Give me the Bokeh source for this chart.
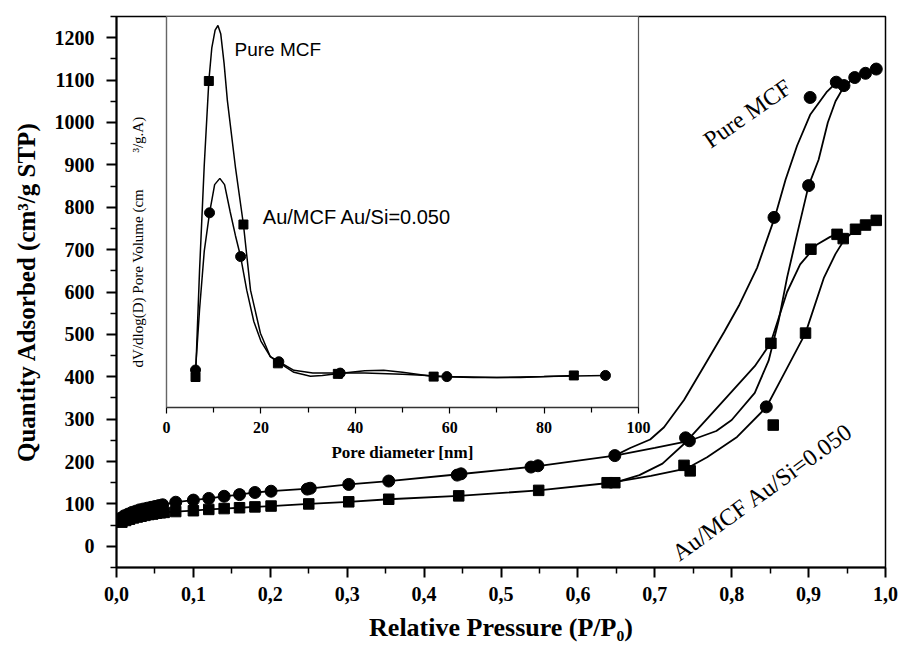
import math
from bokeh.plotting import figure
from bokeh.models import Range1d, FixedTicker, Label, GridBox
from bokeh.embed import file_html
from bokeh.resources import INLINE

# ---------------- main isotherm data ----------------
x_ticks = [0.0, 0.1, 0.2, 0.3, 0.4, 0.5, 0.6, 0.7, 0.8, 0.9, 1.0]
x_tick_labels = ["0,0", "0,1", "0,2", "0,3", "0,4", "0,5", "0,6", "0,7", "0,8", "0,9", "1,0"]
x_minor = [0.05, 0.15, 0.25, 0.35, 0.45, 0.55, 0.65, 0.75, 0.85, 0.95]
y_ticks = [0, 100, 200, 300, 400, 500, 600, 700, 800, 900, 1000, 1100, 1200]
y_minor = [-50, 50, 150, 250, 350, 450, 550, 650, 750, 850, 950, 1050, 1150, 1250]

# markers (circles) - Pure MCF
circ_x = [0.005, 0.010, 0.015, 0.020, 0.025, 0.030, 0.035, 0.040, 0.045, 0.050, 0.055, 0.060,
          0.077, 0.100, 0.120, 0.140, 0.160, 0.180, 0.201, 0.248, 0.252, 0.302, 0.354, 0.443,
          0.448, 0.539, 0.548, 0.648, 0.740, 0.745, 0.845, 0.855, 0.900, 0.902, 0.936, 0.946,
          0.960, 0.974, 0.988]
circ_y = [66, 72, 76, 80, 83, 86, 88, 90, 92, 94, 96, 98,
          104, 109, 113, 118, 122, 127, 130, 135, 137, 146, 154, 168,
          171, 187, 190, 214, 256, 249, 329, 776, 851, 1059, 1095, 1087,
          1106, 1116, 1126]

# markers (squares) - Au/MCF Au/Si=0.050
sq_x = [0.007, 0.012, 0.017, 0.022, 0.027, 0.032, 0.037, 0.042, 0.047, 0.052, 0.057, 0.062,
        0.077, 0.100, 0.120, 0.140, 0.160, 0.180, 0.201, 0.250, 0.302, 0.354, 0.445, 0.549,
        0.638, 0.648, 0.738, 0.746, 0.851, 0.854, 0.896, 0.903, 0.937, 0.945, 0.961, 0.974, 0.988]
sq_y = [57, 61, 64, 67, 69, 71, 73, 75, 76, 78, 79, 80,
        82, 84, 87, 89, 91, 93, 95, 100, 105, 111, 119, 132,
        150, 150, 191, 178, 479, 286, 503, 701, 736, 726, 748, 758, 769]

# curves
pure_ads_x = [0.005, 0.010, 0.015, 0.020, 0.030, 0.040, 0.050, 0.060, 0.077, 0.100, 0.120, 0.140,
              0.160, 0.180, 0.201, 0.250, 0.302, 0.354, 0.445, 0.543, 0.648, 0.700, 0.745, 0.780,
              0.800, 0.830, 0.848, 0.861, 0.872, 0.885, 0.900, 0.913, 0.925, 0.935, 0.946, 0.960,
              0.974, 0.988]
pure_ads_y = [66, 72, 76, 80, 86, 90, 94, 98, 104, 109, 113, 118,
              122, 127, 130, 136, 146, 154, 170, 188, 214, 232, 249, 272,
              298, 362, 438, 532, 634, 736, 851, 912, 1000, 1050, 1085, 1106,
              1116, 1126]
pure_des_x = [0.648, 0.668, 0.694, 0.712, 0.738, 0.764, 0.790, 0.810, 0.833, 0.856, 0.870,
              0.885, 0.902, 0.924, 0.937]
pure_des_y = [214, 232, 252, 281, 345, 425, 505, 570, 657, 776, 865,
              945, 1018, 1073, 1096]
au_ads_x = [0.007, 0.012, 0.017, 0.022, 0.032, 0.042, 0.052, 0.062, 0.077, 0.100, 0.120, 0.140,
            0.160, 0.180, 0.201, 0.250, 0.302, 0.354, 0.445, 0.549, 0.643, 0.695, 0.742, 0.768,
            0.807, 0.845, 0.868, 0.896, 0.920, 0.935, 0.946, 0.961, 0.974, 0.988]
au_ads_y = [57, 61, 64, 67, 71, 75, 78, 80, 82, 84, 87, 89,
            91, 93, 95, 100, 105, 111, 119, 132, 150, 166, 184, 210,
            258, 328, 407, 503, 634, 690, 722, 748, 758, 769]
au_des_x = [0.648, 0.680, 0.710, 0.740, 0.770, 0.800, 0.830, 0.8505, 0.872, 0.889, 0.911, 0.928, 0.937]
au_des_y = [150, 168, 195, 245, 305, 365, 425, 479, 600, 665, 712, 730, 736]

# ---------------- inset (pore size distribution) data ----------------
in_x_ticks = [0, 20, 40, 60, 80, 100]
in_x_minor = [10, 30, 50, 70, 90]

pure_pd_curve_x = [6.15, 7.0, 8.0, 8.97, 9.6, 10.3, 10.9, 11.5, 12.2, 12.9, 14.6, 16.3, 17.8, 19.9,
                   22.0, 23.8, 27.0, 30.5, 33.0, 36.5, 42.0, 46.0, 50.0, 56.6, 65.0, 75.0, 86.3]
pure_pd_curve_y = [0.078, 0.35, 0.62, 0.835, 0.92, 0.965, 0.977, 0.955, 0.88, 0.785, 0.615, 0.468,
                   0.30, 0.19, 0.13, 0.115, 0.09, 0.08, 0.082, 0.087, 0.094, 0.095, 0.09, 0.079,
                   0.077, 0.077, 0.082]
au_pd_curve_x = [6.15, 7.0, 8.0, 9.12, 10.2, 11.3, 12.3, 13.5, 14.6, 15.7, 17.0, 18.5, 20.0, 22.0,
                 23.8, 27.0, 31.0, 36.5, 42.0, 50.0, 59.4, 70.0, 80.0, 93.0]
au_pd_curve_y = [0.096, 0.25, 0.40, 0.498, 0.57, 0.586, 0.57, 0.50, 0.44, 0.386, 0.30, 0.22, 0.17, 0.13,
                 0.117, 0.095, 0.088, 0.088, 0.088, 0.085, 0.079, 0.077, 0.079, 0.082]
pure_pd_sq_x = [6.15, 8.97, 16.3, 23.6, 36.3, 56.6, 86.3]
pure_pd_sq_y = [0.078, 0.835, 0.468, 0.113, 0.086, 0.079, 0.082]
au_pd_circ_x = [6.15, 9.12, 15.7, 23.8, 36.8, 59.4, 93.0]
au_pd_circ_y = [0.096, 0.498, 0.386, 0.117, 0.088, 0.079, 0.082]

SERIF = "Liberation Serif"
SANS = "Liberation Sans"

BL, BR, BT, BB = 116, 17, 16, 81

# ---------------- main figure ----------------
p = figure(width=902, height=648, x_range=Range1d(0, 1.0), y_range=Range1d(-50, 1250),
           output_backend="svg", toolbar_location=None,
           min_border_left=BL, min_border_right=BR, min_border_top=BT, min_border_bottom=BB)
p.xgrid.visible = False
p.ygrid.visible = False
p.outline_line_color = "black"
p.outline_line_width = 1.5
p.background_fill_color = "white"

p.xaxis.ticker = FixedTicker(ticks=x_ticks, minor_ticks=x_minor)
p.xaxis.major_label_overrides = dict(zip(x_ticks, x_tick_labels))
p.yaxis.ticker = FixedTicker(ticks=y_ticks, minor_ticks=y_minor)
p.xaxis.axis_label = "Relative Pressure (P/P\u2080)"
p.yaxis.axis_label = "Quantity Adsorbed (cm\u00b3/g STP)"

for ax in (p.xaxis[0], p.yaxis[0]):
    ax.axis_line_width = 2
    ax.major_tick_line_width = 2
    ax.minor_tick_line_width = 1.5
    ax.major_tick_in = 0
    ax.major_tick_out = 10
    ax.minor_tick_in = 0
    ax.minor_tick_out = 6
    ax.major_label_text_font = SERIF
    ax.major_label_text_font_style = "bold"
    ax.major_label_text_font_size = "20px"
    ax.major_label_text_color = "black"
    ax.axis_label_text_font = SERIF
    ax.axis_label_text_font_style = "bold"
    ax.axis_label_text_color = "black"
p.xaxis.major_label_standoff = 9
p.yaxis.major_label_standoff = 12
p.xaxis.axis_label_text_font_size = "26px"
p.xaxis.axis_label_standoff = 9
p.yaxis.axis_label_text_font_size = "25px"
p.yaxis.axis_label_standoff = 12

LW = 1.8
p.line(pure_ads_x, pure_ads_y, line_color="black", line_width=LW)
p.line(pure_des_x, pure_des_y, line_color="black", line_width=LW)
p.line(au_ads_x, au_ads_y, line_color="black", line_width=LW)
p.line(au_des_x, au_des_y, line_color="black", line_width=LW)
p.scatter(circ_x, circ_y, marker="circle", size=12, fill_color="black", line_color="black")
p.scatter(sq_x, sq_y, marker="square", size=10.5, fill_color="black", line_color="black")

p.add_layout(Label(x=0.8205, y=1021, text="Pure MCF", angle=math.radians(35),
                   text_align="center", text_baseline="middle", text_font=SERIF,
                   text_font_size="24px", text_color="black"))
p.add_layout(Label(x=0.8397, y=128, text="Au/MCF Au/Si=0.050", angle=math.radians(36),
                   text_align="center", text_baseline="middle", text_font=SERIF,
                   text_font_size="24px", text_color="black"))

# inset y-axis title (drawn in the free band left of the inset frame)
p.add_layout(Label(x=0.0286, y=422, text="dV/dlog(D) Pore Volume (cm", angle=math.pi / 2,
                   text_align="left", text_baseline="middle", text_font=SERIF,
                   text_font_size="15px", text_color="black"))
p.add_layout(Label(x=0.0286, y=929, text="\u00b3/g.A)", angle=math.pi / 2,
                   text_align="left", text_baseline="middle", text_font=SERIF,
                   text_font_size="15px", text_color="black"))

# ---------------- inset figure ----------------
ins = figure(width=605, height=488, x_range=Range1d(0, 100), y_range=Range1d(0, 1),
             output_backend="svg", toolbar_location=None,
             min_border_left=BL, min_border_right=BR, min_border_top=BT, min_border_bottom=BB)
ins.margin = (0, 0, 0, 50)
ins.xgrid.visible = False
ins.ygrid.visible = False
ins.border_fill_alpha = 0
ins.background_fill_color = "white"
ins.outline_line_color = "#555555"
ins.outline_line_width = 1.2

ins.xaxis.ticker = FixedTicker(ticks=in_x_ticks, minor_ticks=in_x_minor)
xa = ins.xaxis[0]
xa.axis_line_width = 1.5
xa.axis_line_color = "#333333"
xa.major_tick_in = 0
xa.major_tick_out = 6
xa.minor_tick_in = 0
xa.minor_tick_out = 5
xa.major_tick_line_width = 1.2
xa.minor_tick_line_width = 1.2
xa.major_label_text_font = SERIF
xa.major_label_text_font_style = "bold"
xa.major_label_text_font_size = "16px"
xa.major_label_text_color = "black"
xa.major_label_standoff = 8
xa.axis_label = "Pore diameter [nm]"
xa.axis_label_text_font = SERIF
xa.axis_label_text_font_style = "bold"
xa.axis_label_text_font_size = "17px"
xa.axis_label_text_color = "black"
xa.axis_label_standoff = 7

ya = ins.yaxis[0]
ya.ticker = FixedTicker(ticks=[])
ya.major_tick_line_color = None
ya.minor_tick_line_color = None
ya.major_label_text_font_size = "0px"
ya.axis_line_color = "#666666"
ya.axis_line_width = 1.2

ins.line(pure_pd_curve_x, pure_pd_curve_y, line_color="black", line_width=1.5)
ins.line(au_pd_curve_x, au_pd_curve_y, line_color="black", line_width=1.5)
ins.scatter(pure_pd_sq_x, pure_pd_sq_y, marker="square", size=9, fill_color="black", line_color="black")
ins.scatter(au_pd_circ_x, au_pd_circ_y, marker="circle", size=10, fill_color="black", line_color="black")

ins.add_layout(Label(x=14.4, y=0.916, text="Pure MCF", text_align="left", text_baseline="middle",
                     text_font=SANS, text_font_size="19px", text_color="black"))
ins.add_layout(Label(x=20.4, y=0.487, text="Au/MCF Au/Si=0.050", text_align="left",
                     text_baseline="middle", text_font=SANS, text_font_size="20px", text_color="black"))

layout = GridBox(children=[(p, 0, 0), (ins, 0, 0)])

open("out.html", "w").write(file_html(layout, INLINE))
